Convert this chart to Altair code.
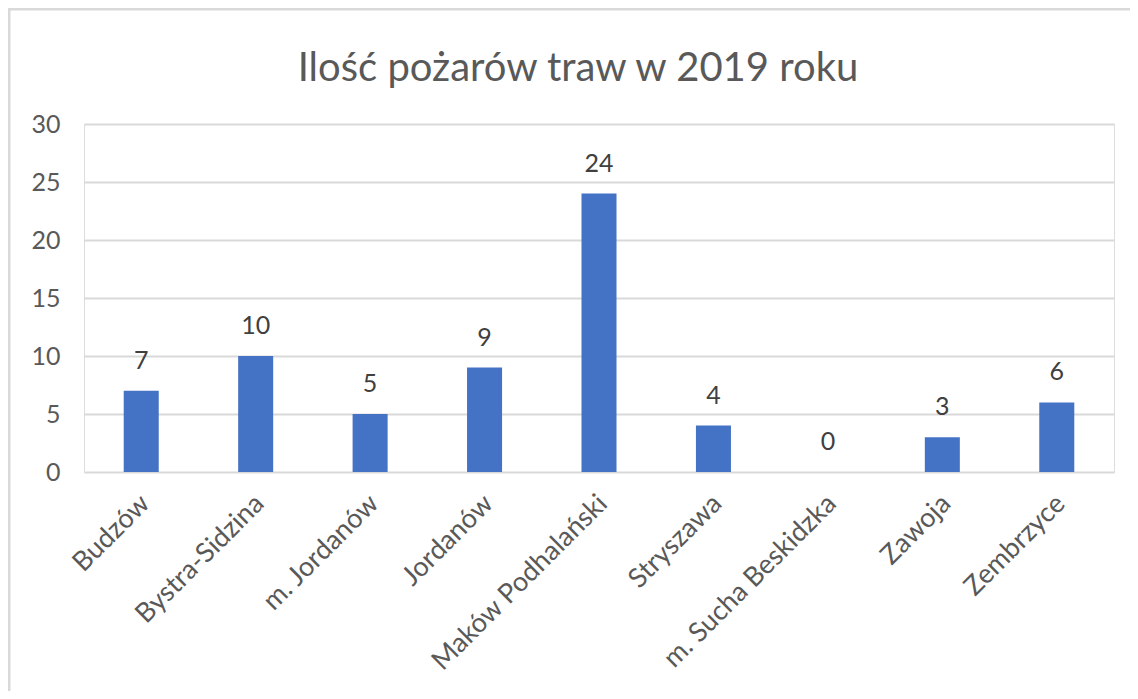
import altair as alt
import pandas as pd

categories = ["Budzów", "Bystra-Sidzina", "m. Jordanów", "Jordanów", "Maków Podhalański",
              "Stryszawa", "m. Sucha Beskidzka", "Zawoja", "Zembrzyce"]
values = [7, 10, 5, 9, 24, 4, 0, 3, 6]
y_ticks = [0, 5, 10, 15, 20, 25, 30]
title_text = "Ilość pożarów traw w 2019 roku"

df = pd.DataFrame({"gmina": categories, "pozary": values})
title_df = pd.DataFrame({"t": [title_text]})

FONT = "Lato"
W, H = 1030, 348

x_enc = alt.X("gmina:N", sort=categories,
              scale=alt.Scale(paddingInner=0.694, paddingOuter=0.347),
              axis=alt.Axis(title=None, labelAngle=-45, labelAlign="right", labelBaseline="top",
                            labelFontSize=27, labelColor="#595959", labelFont=FONT,
                            labelPadding=18, labelOffset=-5, labelLimit=600,
                            ticks=False, domain=False, grid=False))
y_enc = alt.Y("pozary:Q", scale=alt.Scale(domain=[0, 30], nice=False),
              axis=alt.Axis(title=None, values=y_ticks, labelFontSize=25, labelColor="#595959",
                            labelFont=FONT, labelPadding=24, ticks=False, domain=False,
                            grid=True, gridColor="#D9D9D9", gridWidth=2))

frame = alt.Chart(title_df).mark_rect(fill="transparent", stroke="#D9D9D9", strokeWidth=3, clip=False).encode(
    x=alt.value(-75), x2=alt.value(W + 80), y=alt.value(-115), y2=alt.value(H + 280)
)

title = alt.Chart(title_df).mark_text(font=FONT, fontSize=40, color="#595959",
                                      align="center", baseline="alphabetic").encode(
    x=alt.value(W / 2 - 21), y=alt.value(-43), text="t:N"
)

bars = alt.Chart(df).mark_bar(color="#4472C4", strokeWidth=0).encode(
    x=x_enc, y=y_enc
)

labels = alt.Chart(df).mark_text(font=FONT, fontSize=25, color="#404040",
                                 baseline="alphabetic", dy=-22).encode(
    x=alt.X("gmina:N", sort=categories), y="pozary:Q", text="pozary:Q"
)

chart = alt.layer(frame, title, bars, labels).properties(
    width=W, height=H,
    autosize=alt.AutoSizeParams(type="none"),
    padding={"left": 76, "top": 116, "right": 16, "bottom": 219},
).configure_view(strokeWidth=0).configure(background="white")

chart.save("out.html", embed_options={"renderer": "svg", "actions": False})
